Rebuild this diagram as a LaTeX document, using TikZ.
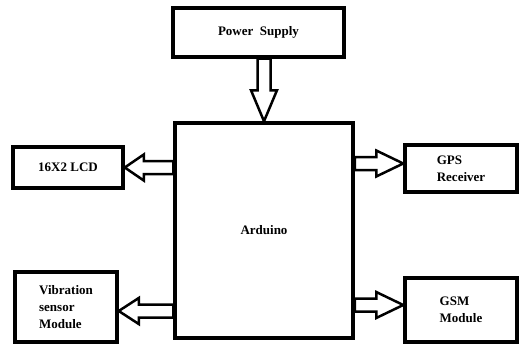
\documentclass[tikz,border=0pt]{standalone}
\usepackage{fontspec}
\setmainfont{Liberation Serif}
\usetikzlibrary{calc}

\begin{document}
\begin{tikzpicture}[x=1pt, y=-1pt]
\tikzstyle{block}=[draw, line width=3.5pt, inner sep=2pt, align=left, font=\fontsize{13}{17}\selectfont\bfseries]
\tikzstyle{hollow}=[draw, line width=2.5pt, miter limit=20, to path={
  ($(\tikztotarget)!#1!(\tikztostart)$) coordinate (hb)
  ($(\tikztostart)!6.5pt!90:(\tikztotarget)$)
  -- ($(hb)!6.5pt!-90:(\tikztostart)$)
  -- ($(hb)!13pt!-90:(\tikztostart)$)
  -- (\tikztotarget)
  -- ($(hb)!13pt!90:(\tikztostart)$)
  -- ($(hb)!6.5pt!90:(\tikztostart)$)
  -- ($(\tikztostart)!6.5pt!-90:(\tikztotarget)$) -- cycle}]
\useasboundingbox (0,0) rectangle (519,345);

\node[block, minimum width=171pt, minimum height=49pt] (pw) at (258.5,32.5) {Power~~Supply};
\node[block, minimum width=178pt, minimum height=215pt] (ard) at (264,230.5) {Arduino};
\node[block, minimum width=110pt, minimum height=41pt] (lcd) at (68,167.5) {16X2 LCD};
\node[block, minimum width=112pt, minimum height=47pt] (gps) at (461,168.5) {GPS\\Receiver};
\node[block, minimum width=102pt, minimum height=70pt] (vib) at (66,307) {Vibration\\sensor\\Module};
\node[block, minimum width=112pt, minimum height=64pt] (gsm) at (461,310) {GSM\\Module};

\path[hollow=31pt] (ard.north |- pw.south) to (ard.north);
\path[hollow=19pt] (ard.west |- lcd) to (lcd.east);
\path[hollow=27pt] ([yshift=5pt]ard.east |- gps) to ([yshift=5pt]gps.west);
\path[hollow=20pt] ([yshift=-4pt]ard.west |- vib) to ([yshift=-4pt]vib.east);
\path[hollow=27pt] ([yshift=5pt]ard.east |- gsm) to ([yshift=5pt]gsm.west);

\end{tikzpicture}
\end{document}
